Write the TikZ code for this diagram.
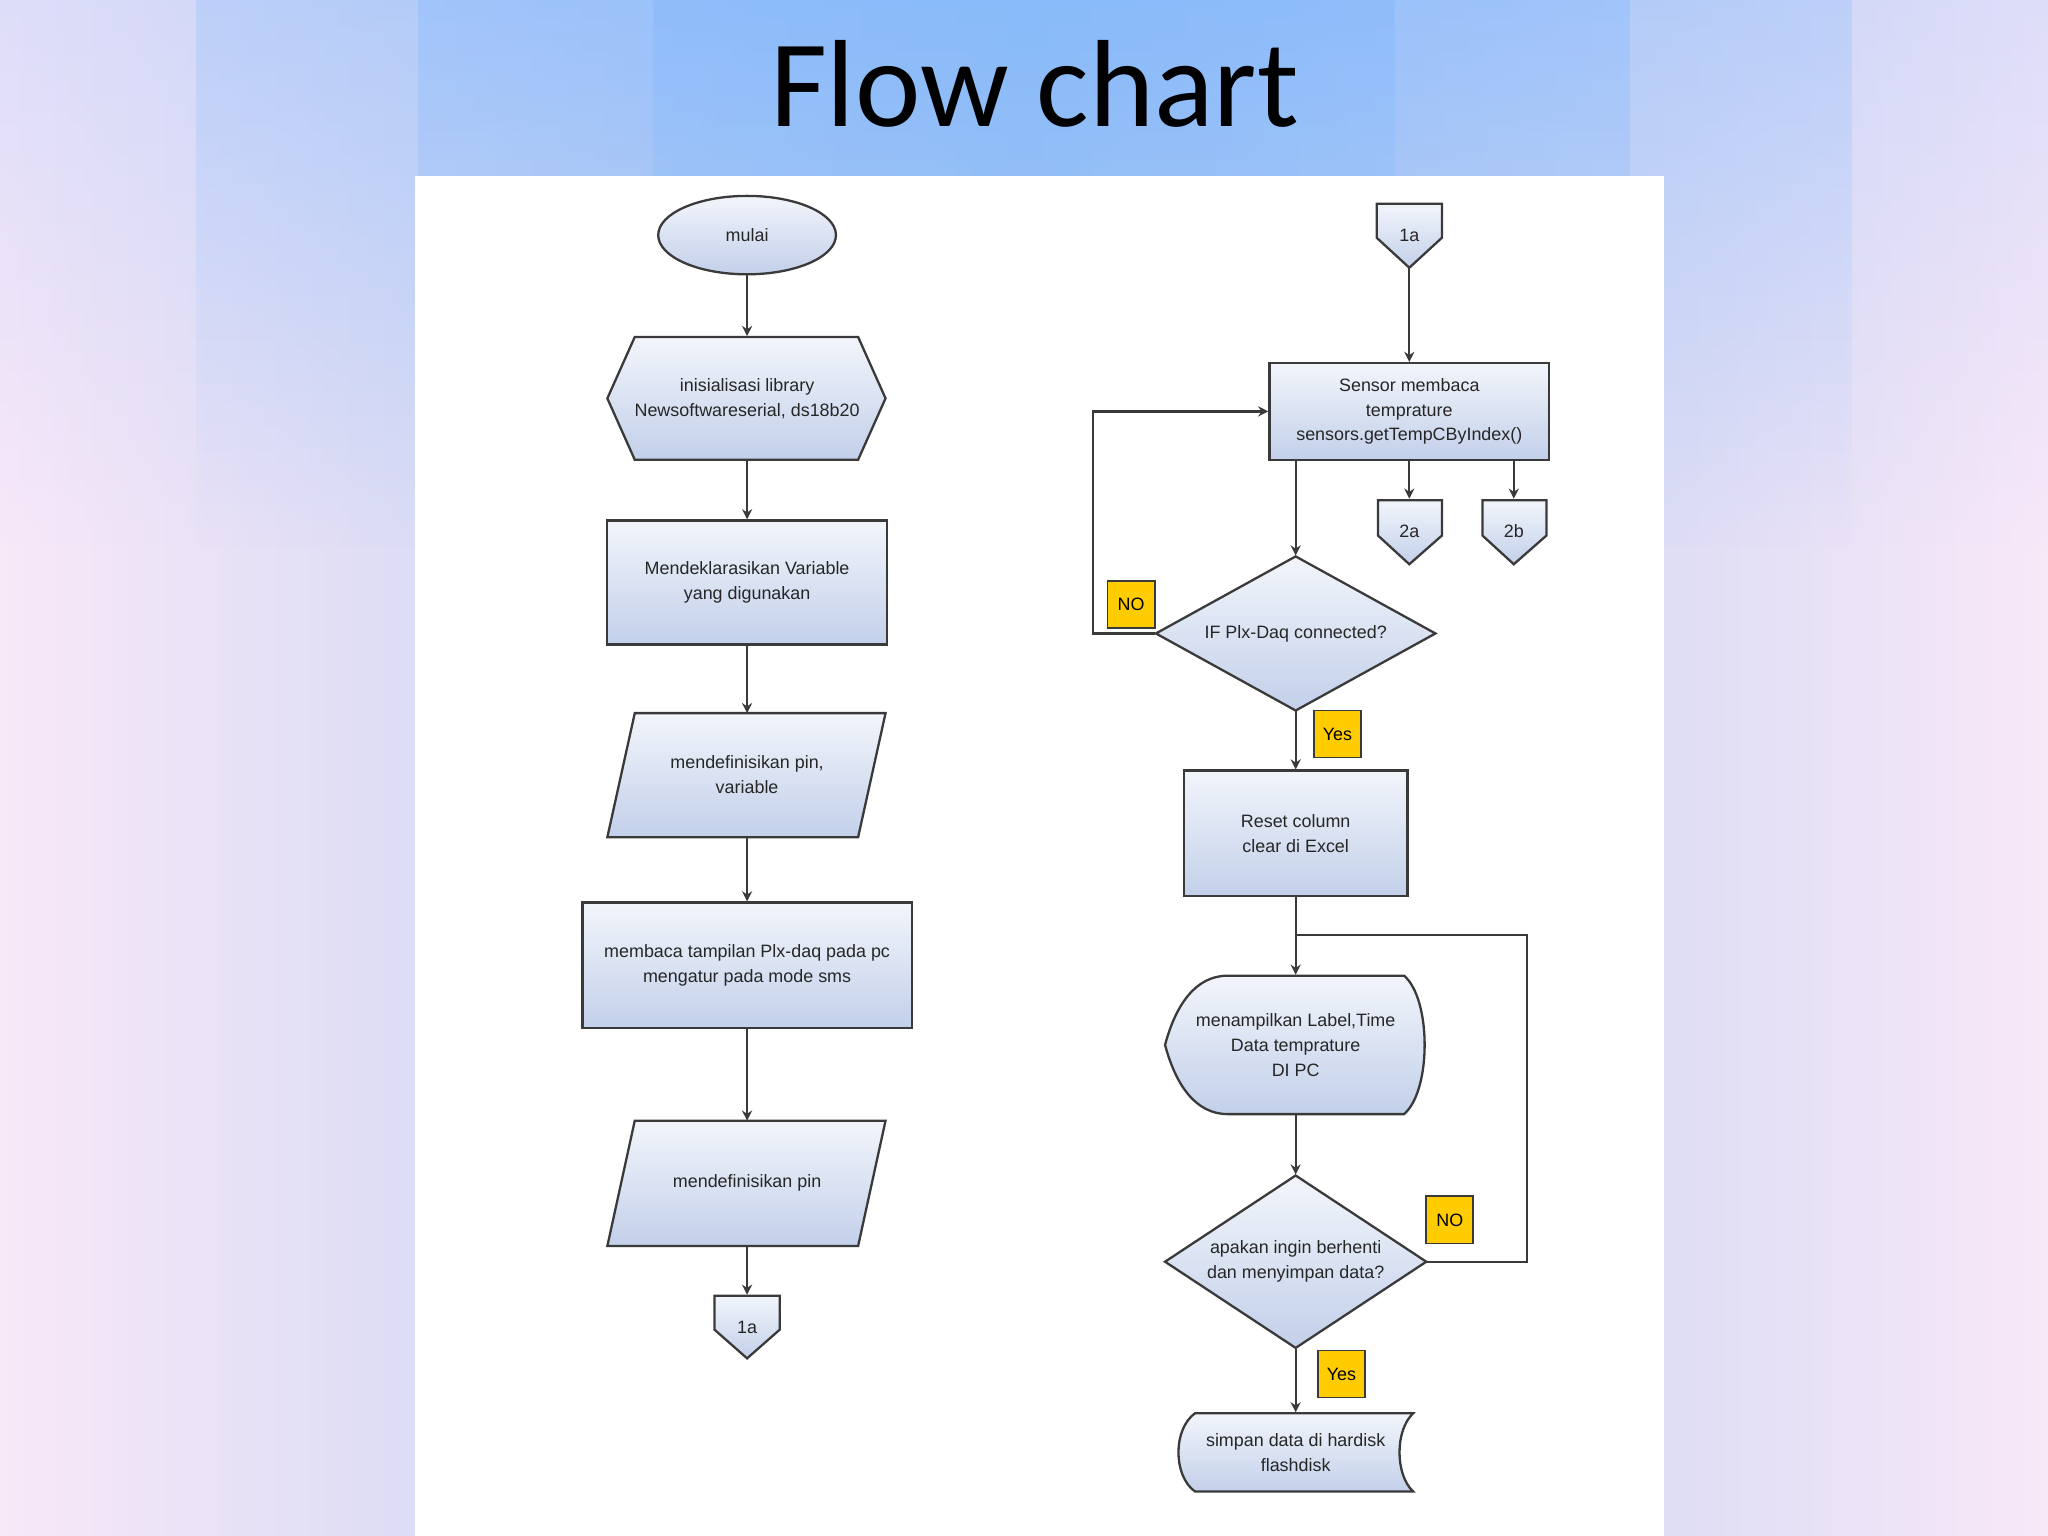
\documentclass[tikz,border=0pt]{standalone}
\usepackage{fontspec}
\setmainfont{Liberation Sans}
\newfontfamily\titlefont{Carlito}
\usetikzlibrary{shapes.geometric,arrows.meta,fadings}
\definecolor{nodeA}{HTML}{F2F5FB}
\definecolor{nodeB}{HTML}{C3D0EA}
\definecolor{edgeC}{HTML}{3A3A3A}
\definecolor{yel}{HTML}{FFCC00}
\definecolor{bgpink}{HTML}{F8E8F8}
\definecolor{bgblue}{HTML}{B4CCF0}
\definecolor{topblue}{HTML}{78B4FF}
\tikzset{
  box/.style={draw=edgeC,line width=0.5pt,top color=nodeA,bottom color=nodeB,align=center,font=\fontsize{3.9}{5.4}\selectfont,text=black!85},
  txt/.style={align=center,font=\fontsize{3.9}{5.4}\selectfont,text=black!85,inner sep=0pt},
  lab/.style={draw=edgeC,fill=yel,line width=0.4pt,minimum size=0.36cm,inner sep=0pt,font=\fontsize{3.9}{5}\selectfont},
  arr/.style={draw=edgeC,line width=0.5pt,-{Stealth[length=2.2pt,width=2.2pt]}},
  ln/.style={draw=edgeC,line width=0.5pt}
}
\begin{document}
\begin{tikzpicture}[x=0.01cm,y=-0.01cm]
\useasboundingbox (0,0) rectangle (1568,1176);
\shade[left color=bgpink, right color=bgpink, middle color=bgblue] (0,0) rectangle (1568,1176);
\fill[topblue, path fading=south, opacity=0.2] (0,0) rectangle (1568,420);
\fill[topblue, path fading=south, opacity=0.25] (150,0) rectangle (1418,420);
\fill[topblue, path fading=south, opacity=0.3] (320,0) rectangle (1248,420);
\fill[topblue, path fading=south, opacity=0.3] (500,0) rectangle (1068,420);
\fill[white] (318,135) rectangle (1274,1176);
\node[font=\titlefont\fontsize{27}{30}\selectfont] (title) at (792,64) {Flow chart};

% left column
\node[box,ellipse,minimum width=1.36cm,minimum height=0.6cm,inner sep=0pt] (mulai) at (572,180) {mulai};
\path[box] (486,258) -- (657,258) -- (678,305) -- (657,352) -- (486,352) -- (465,305) -- cycle;
\node[txt,minimum width=2.13cm,minimum height=0.94cm] (init) at (572,305) {inisialisasi library\\Newsoftwareserial, ds18b20};
\node[box,minimum width=2.14cm,minimum height=0.95cm,inner sep=1pt] (dekl) at (572,446) {Mendeklarasikan Variable\\yang digunakan};
\path[box] (486,546) -- (678,546) -- (657,641) -- (465,641) -- cycle;
\node[txt] (def1) at (572,593) {mendefinisikan pin,\\variable};
\node[box,minimum width=2.52cm,minimum height=0.96cm,inner sep=1pt] (baca) at (572,739) {membaca tampilan Plx-daq pada pc\\mengatur pada mode sms};
\path[box] (486,858) -- (678,858) -- (657,954) -- (465,954) -- cycle;
\node[txt] (def2) at (572,906) {mendefinisikan pin};
\path[box] (547,992) -- (597,992) -- (597,1018) -- (572,1040) -- (547,1018) -- cycle;
\node[txt,minimum height=0.48cm,minimum width=0.5cm] (o1a) at (572,1016) {1a};

\draw[arr] (mulai) -- (init);
\draw[arr] (init) -- (dekl);
\draw[arr] (dekl) -- (572,546);
\draw[arr] (572,641) -- (baca);
\draw[arr] (baca) -- (572,858);
\draw[arr] (572,954) -- (o1a.north);

% right column
\path[box] (1054,156) -- (1104,156) -- (1104,182) -- (1079,205) -- (1054,182) -- cycle;
\node[txt,minimum height=0.49cm,minimum width=0.5cm] (i1a) at (1079,180) {1a};
\node[box,minimum width=2.14cm,minimum height=0.74cm,inner sep=1pt] (sensor) at (1079,315) {Sensor membaca\\temprature\\sensors.getTempCByIndex()};
\path[box] (1055,383) -- (1104,383) -- (1104,410) -- (1079,432) -- (1055,410) -- cycle;
\node[txt,minimum height=0.49cm,minimum width=0.49cm] (o2a) at (1079,407) {2a};
\path[box] (1135,383) -- (1184,383) -- (1184,410) -- (1159,432) -- (1135,410) -- cycle;
\node[txt,minimum height=0.49cm,minimum width=0.49cm] (o2b) at (1159,407) {2b};
\path[box] (992,426) -- (1099,485) -- (992,544) -- (885,485) -- cycle;
\node[txt,minimum width=2.14cm,minimum height=1.18cm] (ifd) at (992,485) {IF Plx-Daq connected?};
\node[lab] (no1) at (866,463) {NO};
\node[lab] (yes1) at (1024,562) {Yes};
\node[box,minimum width=1.71cm,minimum height=0.96cm,inner sep=1pt] (reset) at (992,638) {Reset column\\clear di Excel};
\path[box] (892,800) .. controls (900,770) and (915,747) .. (940,747) -- (1075,747) .. controls (1096,765) and (1096,835) .. (1075,853) -- (940,853) .. controls (915,853) and (900,830) .. (892,800) -- cycle;
\node[txt,minimum width=1.99cm,minimum height=1.06cm] (disp) at (992,800) {menampilkan Label,Time\\Data temprature\\DI PC};
\path[box] (992,900) -- (1092,966) -- (992,1032) -- (892,966) -- cycle;
\node[txt,minimum width=2.0cm,minimum height=1.32cm] (ask) at (992,966) {apakan ingin berhenti\\dan menyimpan data?};
\node[lab] (no2) at (1110,934) {NO};
\node[lab] (yes2) at (1027,1052) {Yes};
\path[box] (915,1082) -- (1082,1082) .. controls (1068,1095) and (1068,1129) .. (1082,1142) -- (915,1142) .. controls (898,1130) and (898,1094) .. (915,1082) -- cycle;
\node[txt,minimum width=1.79cm,minimum height=0.6cm] (simpan) at (992,1112) {simpan data di hardisk\\flashdisk};

\draw[arr] (i1a.south) -- (sensor);
\draw[arr] (1079,352) -- (o2a.north);
\draw[arr] (1159,352) -- (o2b.north);
\draw[arr] (992,352) -- (ifd.north);
\draw[arr] (ifd.west) -- (837,485) -- (837,315) -- (sensor.west);
\draw[arr] (ifd.south) -- (reset);
\draw[arr] (reset) -- (disp.north);
\draw[arr] (disp.south) -- (ask.north);
\draw[ln] (ask.east) -- (1169,966) -- (1169,716) -- (992,716);
\draw[arr] (ask.south) -- (simpan.north);
\end{tikzpicture}
\end{document}
